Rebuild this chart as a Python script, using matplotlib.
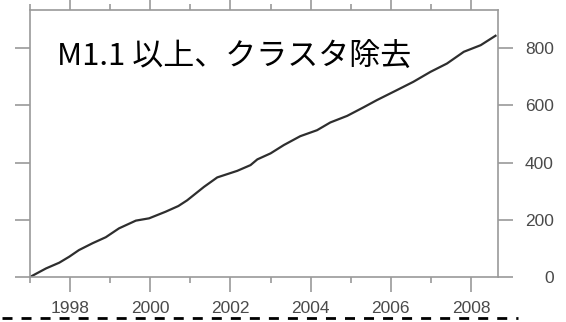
#!/usr/bin/env python3
"""
Cumulative event count (M1.1+, declustered) - recreation
"""

import matplotlib
matplotlib.use('Agg')
import matplotlib.pyplot as plt
from matplotlib.lines import Line2D

# data
years = [1997.00, 1997.40, 1997.73, 1997.98, 1998.22, 1998.56, 1998.89,
         1999.22, 1999.64, 1999.97, 2000.38, 2000.70, 2000.92, 2001.34,
         2001.67, 2002.17, 2002.50, 2002.67, 2003.00, 2003.33, 2003.74,
         2004.16, 2004.49, 2004.91, 2005.32, 2005.65, 2006.15, 2006.56,
         2006.99, 2007.40, 2007.82, 2008.24, 2008.61]
counts = [0, 30, 50, 71, 94, 118, 139,
          170, 197, 205, 228, 248, 268, 315,
          348, 371, 391, 411, 432, 461, 492,
          513, 540, 563, 593, 618, 653, 682,
          717, 746, 787, 810, 843]

major_years = [1998, 2000, 2002, 2004, 2006, 2008]
minor_years = [1997, 1999, 2001, 2003, 2005, 2007]
y_ticks = [0, 200, 400, 600, 800]
label_text = 'M1.1 以上、クラスタ除去'

plt.rcParams['lines.scale_dashes'] = False

fig = plt.figure(figsize=(5.66, 3.22), dpi=100)
ax = fig.add_axes([30 / 566, 1 - 277 / 322, 467.5 / 566, 267 / 322])

ax.plot(years, counts, color='#2e2e2e', linewidth=1.6)

ax.set_xlim(1997.0, 2008.66)
ax.set_ylim(0, 933)

grey = '#9a9a9a'
for side in ['left', 'right', 'top', 'bottom']:
    ax.spines[side].set_color(grey)
    ax.spines[side].set_linewidth(1.2)

ax.set_xticks(major_years)
ax.set_xticks(minor_years, minor=True)
ax.set_xticklabels([str(y) for y in major_years])
ax.set_yticks(y_ticks)
ax.set_yticklabels([str(v) for v in y_ticks])

ax.tick_params(axis='x', which='major', direction='out', length=10.8, width=1.2,
               color=grey, pad=6.5, labelsize=12.5, labelcolor='#4a4a4a',
               top=True, labeltop=False)
ax.tick_params(axis='x', which='minor', direction='out', length=4.5, width=1.2,
               color=grey, top=True)
ax.tick_params(axis='y', direction='out', length=10.5, width=1.2, color=grey,
               left=True, right=True, labelleft=False, labelright=True,
               labelsize=12.5, labelcolor='#4a4a4a', pad=30)
for lab in ax.get_xticklabels() + ax.get_yticklabels():
    lab.set_family('Liberation Sans')
for lab in ax.get_yticklabels():
    lab.set_horizontalalignment('right')

ax.text(0.058, 0.822, label_text, transform=ax.transAxes,
        fontsize=22.3, family=['Noto Sans CJK JP', 'DejaVu Sans'],
        color='black', va='center', ha='left')

# dashed separator at the bottom of the picture
fig.add_artist(Line2D([2 / 566, 518 / 566], [1 - 318.3 / 322, 1 - 318.3 / 322],
                      transform=fig.transFigure, color='black', linewidth=2.0,
                      linestyle=(0, (7.2, 6.5)), zorder=10))

fig.savefig('out.png', dpi=100, facecolor='white')
